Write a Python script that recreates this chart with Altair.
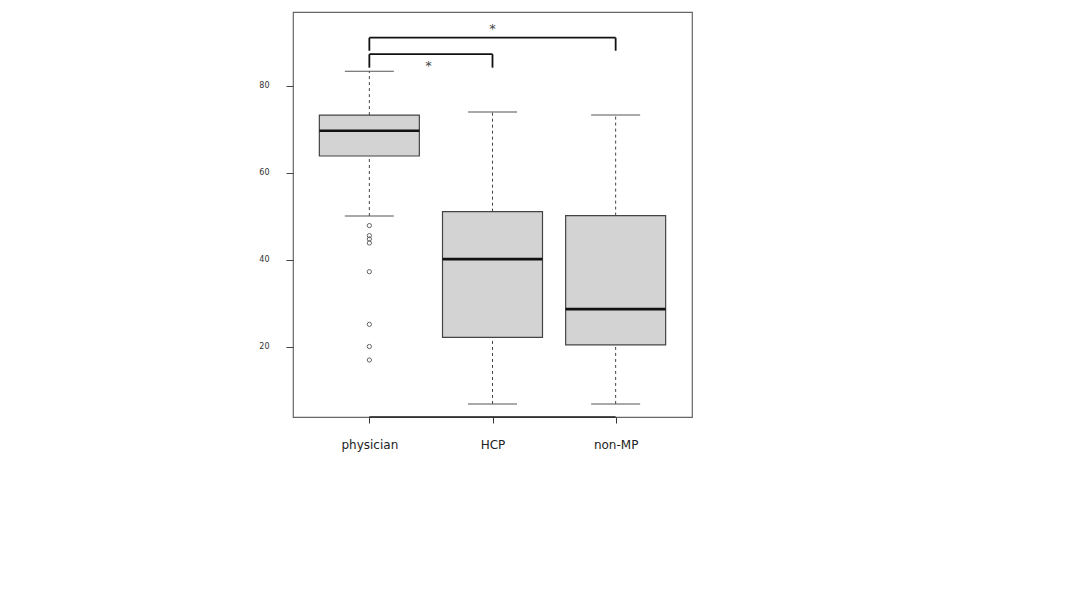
import altair as alt
import pandas as pd

categories = ["physician", "HCP", "non-MP"]
positions = [1, 2, 3]
whisker_low = [50.1, 6.9, 6.9]
q1 = [63.9, 22.2, 20.5]
median = [69.7, 40.2, 28.7]
q3 = [73.3, 51.1, 50.2]
whisker_high = [83.4, 74.0, 73.3]

outlier_values = [47.9, 45.6, 44.8, 43.9, 37.3, 25.2, 20.1, 17.0]
outlier_group = [1] * len(outlier_values)

bracket_from = [1, 1]
bracket_to = [3, 2]
bracket_top = [91.1, 87.3]
bracket_leg = [88.1, 84.2]
star_x = [2.0, 1.48]
star_y = [93.3, 84.8]
star_text = ["*", "*"]

y_ticks = [20, 40, 60, 80]

boxes = pd.DataFrame({
    "cat": categories, "pos": positions, "lo": whisker_low, "q1": q1,
    "med": median, "q3": q3, "hi": whisker_high,
})
outliers = pd.DataFrame({"pos": outlier_group, "v": outlier_values})
brackets = pd.DataFrame({"a": bracket_from, "b": bracket_to,
                         "top": bracket_top, "leg": bracket_leg})
stars = pd.DataFrame({"x": star_x, "y": star_y, "t": star_text})
axis_line = pd.DataFrame({"a": [min(positions)], "b": [max(positions)]})

label_expr = ("datum.value == 1 ? 'physician' : datum.value == 2 ? 'HCP' : "
              "datum.value == 3 ? 'non-MP' : ''")

xs = alt.Scale(domain=[0.38, 3.62], nice=False, zero=False, padding=0)
ys = alt.Scale(domain=[3.9, 97.0], nice=False, zero=False, padding=0)

X = alt.X("pos:Q", scale=xs, title=None,
          axis=alt.Axis(values=positions, labelExpr=label_expr, grid=False,
                        domain=False, tickSize=6, tickColor="#333",
                        labelFontSize=12, labelPadding=16, labelColor="#222",
                        labelFont="DejaVu Sans"))
Y = alt.Y("lo:Q", scale=ys, title=None,
          axis=alt.Axis(values=y_ticks, grid=False, domain=False, tickSize=7,
                        tickColor="#444", labelFontSize=8, labelPadding=17,
                        labelColor="#333", labelFont="DejaVu Sans"))

base = alt.Chart(boxes)

whisk_low = base.mark_rule(color="#444", strokeDash=[3, 3], strokeWidth=1).encode(
    x=X, y=Y, y2="q1:Q")
whisk_high = base.mark_rule(color="#444", strokeDash=[3, 3], strokeWidth=1).encode(
    x="pos:Q", y=alt.Y("q3:Q", scale=ys), y2="hi:Q")
cap_low = base.mark_tick(orient="horizontal", size=49, thickness=1, color="#555",
                         opacity=1).encode(
    x="pos:Q", y=alt.Y("lo:Q", scale=ys))
cap_high = base.mark_tick(orient="horizontal", size=49, thickness=1, color="#555",
                          opacity=1).encode(
    x="pos:Q", y=alt.Y("hi:Q", scale=ys))
box = base.mark_bar(size=100, color="#d3d3d3", stroke="#444", strokeWidth=1.2).encode(
    x="pos:Q", y=alt.Y("q1:Q", scale=ys), y2="q3:Q")
med = base.mark_tick(orient="horizontal", size=100, thickness=2.6, color="#111",
                     opacity=1).encode(
    x="pos:Q", y=alt.Y("med:Q", scale=ys))

pts = alt.Chart(outliers).mark_point(shape="circle", size=18, filled=False,
                                      color="#555", strokeWidth=0.9, opacity=1).encode(
    x="pos:Q", y=alt.Y("v:Q", scale=ys))

bc = alt.Chart(brackets)
b_h = bc.mark_rule(color="#111", strokeWidth=1.8).encode(
    x="a:Q", x2="b:Q", y=alt.Y("top:Q", scale=ys))
b_l = bc.mark_rule(color="#111", strokeWidth=1.8).encode(
    x="a:Q", y=alt.Y("top:Q", scale=ys), y2="leg:Q")
b_r = bc.mark_rule(color="#111", strokeWidth=1.8).encode(
    x="b:Q", y=alt.Y("top:Q", scale=ys), y2="leg:Q")

st = alt.Chart(stars).mark_text(fontSize=13, color="#444", baseline="middle",
                                font="DejaVu Sans", dy=1).encode(
    x="x:Q", y=alt.Y("y:Q", scale=ys), text="t:N")

xaxis = alt.Chart(axis_line).mark_rule(color="#222", strokeWidth=1.5).encode(
    x="a:Q", x2="b:Q", y=alt.value(405))

chart = alt.layer(whisk_low, whisk_high, cap_low, cap_high, box, med, pts,
                  b_h, b_l, b_r, st, xaxis).properties(
    width=399, height=405, autosize="none",
    padding={"left": 285, "top": 4, "right": 10, "bottom": 60},
    background="white",
).configure_view(stroke="#666", strokeWidth=1.2)

chart.save("out.html", embed_options={"renderer": "svg", "actions": False})
